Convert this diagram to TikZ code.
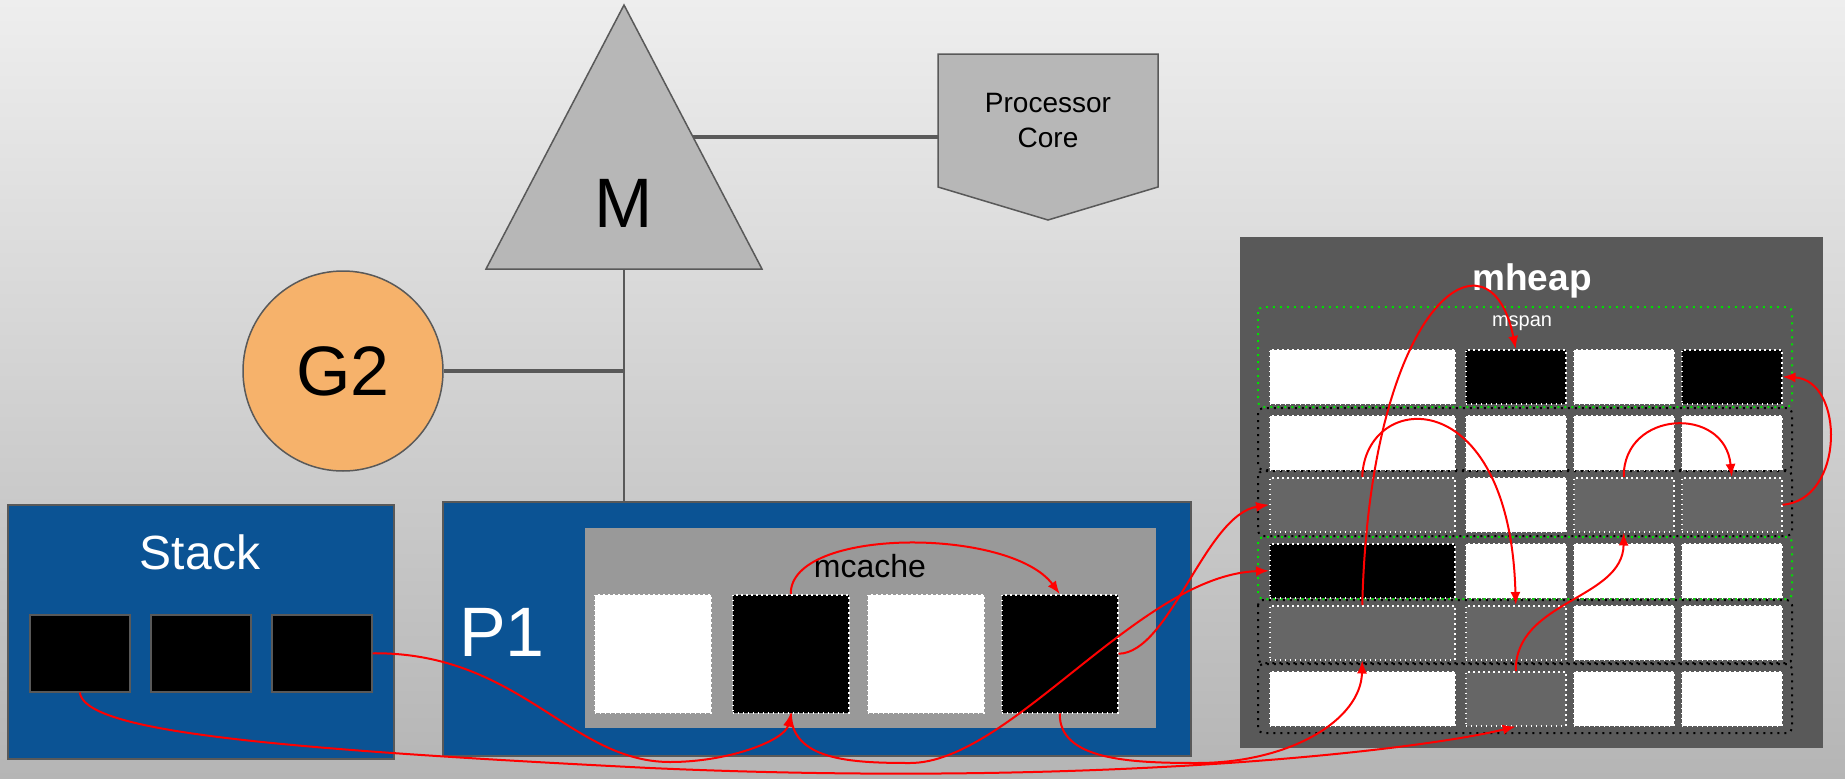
\documentclass[tikz,border=0pt]{standalone}
\usepackage{fontspec}
\setmainfont{Liberation Sans}
\usetikzlibrary{positioning, arrows.meta, shapes.geometric}
\definecolor{gmbgtop}{HTML}{EEEEEE}
\definecolor{gmbgbottom}{HTML}{B5B5B5}
\definecolor{gmblue}{HTML}{0B5394}
\definecolor{gmedge}{HTML}{595959}
\definecolor{gmorange}{HTML}{F6B26B}
\definecolor{gmshape}{HTML}{B7B7B7}
\definecolor{gmcache}{HTML}{999999}
\definecolor{gmheap}{HTML}{595959}
\definecolor{gmfree}{HTML}{666666}
\definecolor{gmgreen}{HTML}{00E000}
\definecolor{gmred}{HTML}{FF0000}

\begin{document}
\begin{tikzpicture}[x=1pt, y=-1pt,
    box/.style={draw=gmedge, line width=1.5pt, inner sep=0pt, anchor=north west},
    bluebox/.style={box, fill=gmblue},
    stackslot/.style={box, fill=black, minimum width=100pt, minimum height=77pt},
    slot/.style={draw=white, line width=1.5pt, dash pattern=on 1.5pt off 3.5pt, inner sep=0pt,
                 anchor=north west, minimum height=54pt},
    cacheslot/.style={slot, minimum width=116pt, minimum height=118pt},
    wide/.style={slot, minimum width=185pt},
    narrow/.style={slot, minimum width=100pt},
    rowline/.style={draw=black, line width=2pt, dash pattern=on 2pt off 5pt, rounded corners=5pt},
    spanline/.style={rowline, draw=gmgreen},
    link/.style={draw=gmedge, line width=2.5pt},
    ptr/.style={draw=gmred, line width=2pt, -{Latex[length=13pt, width=10pt]}},
    huge/.style={font=\fontsize{70}{84}\selectfont}]
  \shade[top color=gmbgtop, bottom color=gmbgbottom] (0,0) rectangle (1845,779);
  \useasboundingbox (0,0) rectangle (1845,779);

  \draw[draw=gmedge, line width=1.5pt, fill=gmshape] (624,5) -- (762,269) -- (486,269) -- cycle;
  \node[huge] (mlabel) at (624,203) {M};
  \coordinate (mright) at (693,137);
  \coordinate (mbase) at (624,269);
  \coordinate (gjoin) at (624,371);

  \draw[draw=gmedge, line width=1.5pt, fill=gmshape]
    (938,54) -- (1158,54) -- (1158,187) -- (1048,220) -- (938,187) -- cycle;
  \node[font=\fontsize{28}{35}\selectfont, align=center] (core) at (1048,121) {Processor\\Core};
  \coordinate (corewest) at (938,137);

  \node[circle, draw=gmedge, line width=1.5pt, fill=gmorange, minimum size=200pt,
        inner sep=0pt, huge] (g2) at (343,371) {G2};

  \node[bluebox, minimum width=386pt, minimum height=254pt] (stack) at (7,504) {};
  \node[font=\fontsize{48}{58}\selectfont, text=white] (stacklabel) at (200,552) {Stack};
  \node[stackslot] (st1) at (29,614) {};
  \node[stackslot] (st2) at (150,614) {};
  \node[stackslot] (st3) at (271,614) {};

  \node[bluebox, minimum width=748pt, minimum height=254pt] (p1) at (442,501) {};
  \node[huge, text=white] (p1label) at (502,632) {P1};
  \node[anchor=north west, fill=gmcache, minimum width=571pt, minimum height=200pt,
        inner sep=0pt] (mcache) at (585,528) {};
  \node[font=\fontsize{32}{38}\selectfont] (mcachelabel) at (870,566) {mcache};
  \node[cacheslot, fill=white] (mc1) at (594,594) {};
  \node[cacheslot, fill=black] (mc2) at (732,594) {};
  \node[cacheslot, fill=white] (mc3) at (867,594) {};
  \node[cacheslot, fill=black] (mc4) at (1001,594) {};

  \draw[link, line width=4pt] (mright) -- (corewest);
  \draw[link] (mbase) -- (mbase |- p1.north);
  \draw[link, line width=3.5pt] (g2.east) -- (gjoin);

  \node[anchor=north west, fill=gmheap, minimum width=583pt, minimum height=511pt,
        inner sep=0pt] (mheap) at (1240,237) {};
  \node[font=\fontsize{37}{44}\selectfont\bfseries, text=white] (mheaplabel) at (1532,281) {mheap};
  \draw[spanline] (1258,307) rectangle (1792,407);
  \draw[rowline] (1258,408) rectangle (1792,470);
  \draw[rowline] (1258,471) rectangle (1792,536);
  \draw[spanline] (1258,537) rectangle (1792,599);
  \draw[rowline] (1258,600) rectangle (1792,663);
  \draw[rowline] (1258,664) rectangle (1792,733);
  \node[font=\fontsize{20}{24}\selectfont, text=white] (mspanlabel) at (1522,323) {mspan};

  \node[wide, fill=white] (r1c1) at (1269,349) {};
  \node[narrow, fill=black] (r1c2) at (1465,349) {};
  \node[narrow, fill=white] (r1c3) at (1573,349) {};
  \node[narrow, fill=black] (r1c4) at (1681,349) {};
  \node[wide, fill=white] (r2c1) at (1269,415) {};
  \node[narrow, fill=white] (r2c2) at (1465,415) {};
  \node[narrow, fill=white] (r2c3) at (1573,415) {};
  \node[narrow, fill=white] (r2c4) at (1681,415) {};
  \node[wide, fill=gmfree] (r3c1) at (1269,477) {};
  \node[narrow, fill=white] (r3c2) at (1465,477) {};
  \node[narrow, fill=gmfree] (r3c3) at (1573,477) {};
  \node[narrow, fill=gmfree] (r3c4) at (1681,477) {};
  \node[wide, fill=black] (r4c1) at (1269,543) {};
  \node[narrow, fill=white] (r4c2) at (1465,543) {};
  \node[narrow, fill=white] (r4c3) at (1573,543) {};
  \node[narrow, fill=white] (r4c4) at (1681,543) {};
  \node[wide, fill=gmfree] (r5c1) at (1269,605) {};
  \node[narrow, fill=gmfree] (r5c2) at (1465,605) {};
  \node[narrow, fill=white] (r5c3) at (1573,605) {};
  \node[narrow, fill=white] (r5c4) at (1681,605) {};
  \node[wide, fill=white] (r6c1) at (1269,671) {};
  \node[narrow, fill=gmfree] (r6c2) at (1465,671) {};
  \node[narrow, fill=white] (r6c3) at (1573,671) {};
  \node[narrow, fill=white] (r6c4) at (1681,671) {};

  \draw[ptr] (st3.east) .. controls (520,652) and (570,762) .. (670,762)
    .. controls (730,762) and (785,740) .. (mc2.south);
  \draw[ptr] (st1.south) .. controls (85,730) and (250,748) .. (650,768)
    .. controls (1100,788) and (1420,750) .. (r6c2.south);
  \draw[ptr] (mc2.north) .. controls (790,527) and (1010,527) .. (mc4.north);
  \draw[ptr] (mc2.south) .. controls (792,760) and (850,763) .. (910,763)
    .. controls (1010,763) and (1140,575) .. (r4c1.west);
  \draw[ptr] (mc4.east) .. controls (1170,653) and (1205,515) .. (r3c1.west);
  \draw[ptr] (mc4.south) .. controls (1059,760) and (1130,763) .. (1197,763)
    .. controls (1290,763) and (1361,720) .. (r5c1.south);
  \draw[ptr] (r5c1.north) .. controls (1370,300) and (1490,220) .. (r1c2.north);
  \draw[ptr] (r3c1.north) .. controls (1365,390) and (1510,380) .. (r5c2.north);
  \draw[ptr] (r3c3.north) .. controls (1623,410) and (1725,405) .. (r3c4.north);
  \draw[ptr] (r3c4.east) .. controls (1845,500) and (1845,380) .. (r1c4.east);
  \draw[ptr] (r6c2.north) .. controls (1515,600) and (1623,600) .. (r3c3.south);
\end{tikzpicture}
\end{document}
